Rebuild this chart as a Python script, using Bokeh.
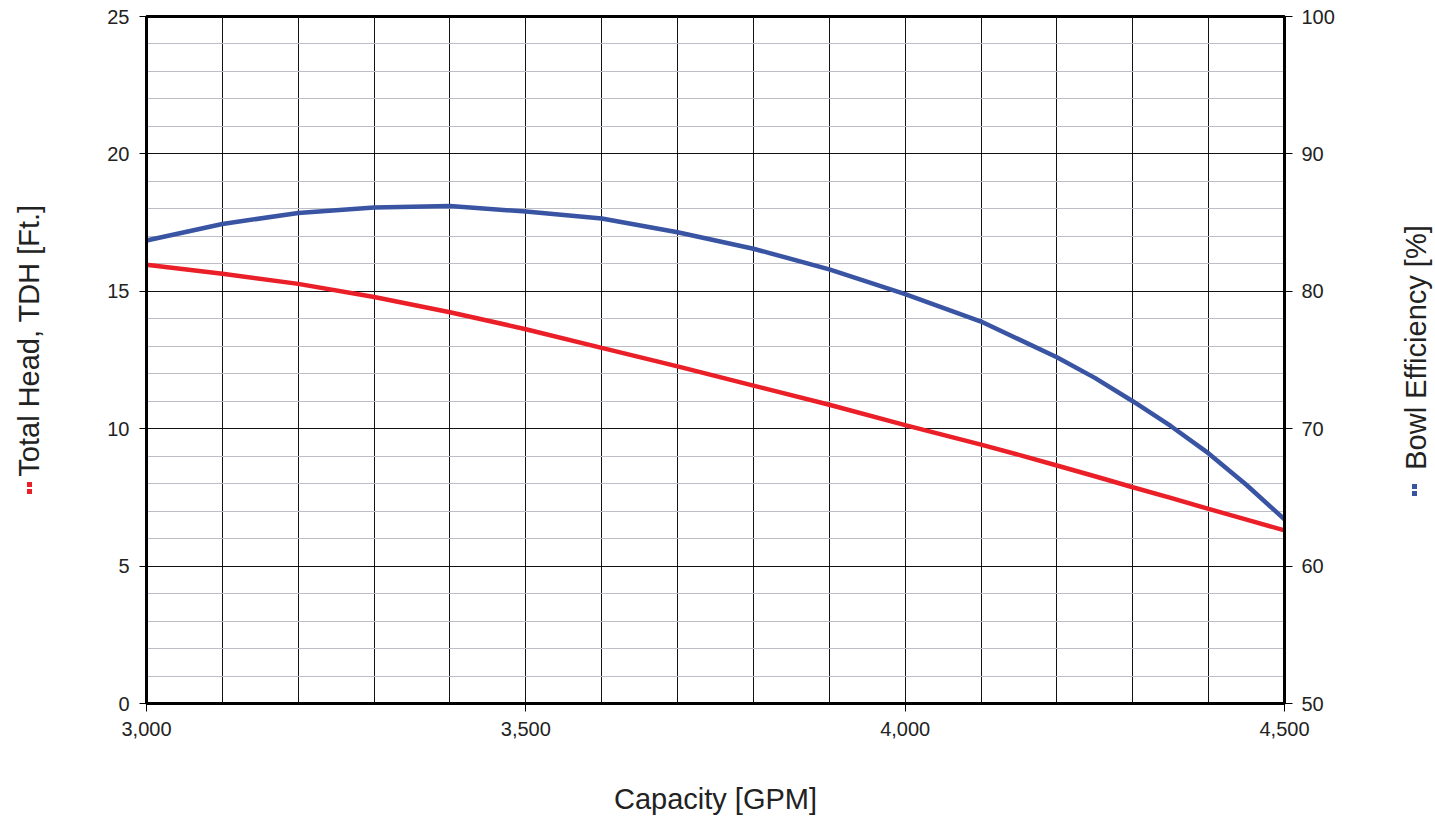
import math
from bokeh.plotting import figure
from bokeh.layouts import row
from bokeh.models import (Range1d, LinearAxis, FixedTicker, NumeralTickFormatter)
from bokeh.core.properties import value
from bokeh.embed import file_html
from bokeh.resources import INLINE

capacity = [3000, 3100, 3200, 3300, 3400, 3500, 3600, 3700, 3800, 3900, 4000, 4100, 4150, 4200, 4250, 4300, 4350, 4400, 4450, 4500]
head = [15.97, 15.64, 15.27, 14.79, 14.24, 13.62, 12.94, 12.27, 11.57, 10.87, 10.13, 9.42, 9.05, 8.66, 8.27, 7.87, 7.48, 7.08, 6.69, 6.3]
efficiency = [83.7, 84.9, 85.7, 86.1, 86.2, 85.8, 85.3, 84.3, 83.1, 81.6, 79.8, 77.8, 76.5, 75.2, 73.7, 72.0, 70.2, 68.2, 65.9, 63.4]

x_ticks = [3000, 3500, 4000, 4500]
x_grid = list(range(3000, 4501, 100))
y_ticks = [0, 5, 10, 15, 20, 25]
y_minor = [v for v in range(0, 26) if v % 5 != 0]
y2_ticks = [50, 60, 70, 80, 90, 100]

x_title = "Capacity [GPM]"
y_title = "Total Head, TDH [Ft.]"
y2_title = "Bowl Efficiency [%]"

FONT = "Liberation Sans"
RED = "#ea1f27"
BLUE = "#3a54a4"
TXT = "#222222"
H = 820
LW = 60
RX = 1366          # left edge of the right title panel
RW = 68
TOP = 16
BOT = 703

p = figure(width=RX - LW, height=H, output_backend="svg", toolbar_location=None,
           x_range=Range1d(3000, 4500), y_range=Range1d(0, 25),
           min_border_left=146 - LW, min_border_right=RX - 1284, min_border_top=TOP,
           min_border_bottom=H - BOT)
p.extra_y_ranges = {"eff": Range1d(50, 100)}

p.outline_line_color = "black"
p.outline_line_width = 3

# grids
p.xgrid.ticker = FixedTicker(ticks=x_grid)
p.xgrid.grid_line_color = "#111111"
p.xgrid.grid_line_width = 1
p.ygrid.ticker = FixedTicker(ticks=y_ticks, minor_ticks=y_minor)
p.ygrid.grid_line_color = "#111111"
p.ygrid.grid_line_width = 1
p.ygrid.minor_grid_line_color = "#bdbdc5"
p.ygrid.minor_grid_line_width = 1

def style_axis(ax):
    ax.axis_line_color = "black"
    ax.axis_line_width = 3
    ax.major_tick_line_color = "black"
    ax.major_tick_line_width = 1
    ax.major_tick_out = 7
    ax.major_tick_in = 0
    ax.minor_tick_line_color = None
    ax.major_label_text_font = FONT
    ax.major_label_text_font_size = "20px"
    ax.major_label_text_color = TXT
    ax.major_label_standoff = 10
    ax.axis_label_text_font = FONT
    ax.axis_label_text_font_size = "29px"
    ax.axis_label_text_font_style = "normal"
    ax.axis_label_text_color = TXT

xa = p.xaxis[0]
xa.ticker = FixedTicker(ticks=x_ticks)
xa.formatter = NumeralTickFormatter(format="0,0")
xa.axis_label = x_title
style_axis(xa)
xa.major_tick_out = 8
xa.major_label_standoff = 10
xa.axis_label_standoff = 44

ya = p.yaxis[0]
ya.ticker = FixedTicker(ticks=y_ticks)
style_axis(ya)

ya2 = LinearAxis(y_range_name="eff", ticker=FixedTicker(ticks=y2_ticks))
style_axis(ya2)
ya2.major_tick_out = 8
ya2.major_label_standoff = 9
p.add_layout(ya2, "right")

p.line(capacity, head, line_color=RED, line_width=4.5)
p.line(capacity, efficiency, line_color=BLUE, line_width=4.5, y_range_name="eff")


def side_panel(width):
    # frames of a row are aligned with the main plot's frame (TOP..BOT),
    # so map the y range so that data y == H - screen y
    f = figure(width=width, height=H, output_backend="svg", toolbar_location=None,
               x_range=Range1d(0, width), y_range=Range1d(H - BOT, H - TOP),
               min_border=0, min_border_left=0, min_border_right=0,
               min_border_top=TOP, min_border_bottom=H - BOT)
    f.axis.visible = False
    f.grid.grid_line_color = None
    f.outline_line_color = None
    return f

# left title panel (title reads bottom-to-top, red key below it)
lf = side_panel(LW)
lf.text(x=[28.5], y=[H - 340], text=[y_title], angle=math.pi / 2,
        text_align="center", text_baseline="middle", text_color=TXT,
        text_font=value(FONT), text_font_size="29px")
lf.rect(x=[29, 29], y=[H - 484, H - 491], width=5, height=5, fill_color=RED, line_color=None)

# right title panel
rf = side_panel(RW)
rf.text(x=[1415 - RX], y=[H - 347], text=[y2_title], angle=math.pi / 2,
        text_align="center", text_baseline="middle", text_color=TXT,
        text_font=value(FONT), text_font_size="29px")
rf.rect(x=[1414 - RX, 1414 - RX], y=[H - 486, H - 493], width=5, height=5,
        fill_color=BLUE, line_color=None)

layout = row(lf, p, rf)
open("out.html", "w").write(file_html(layout, INLINE))
